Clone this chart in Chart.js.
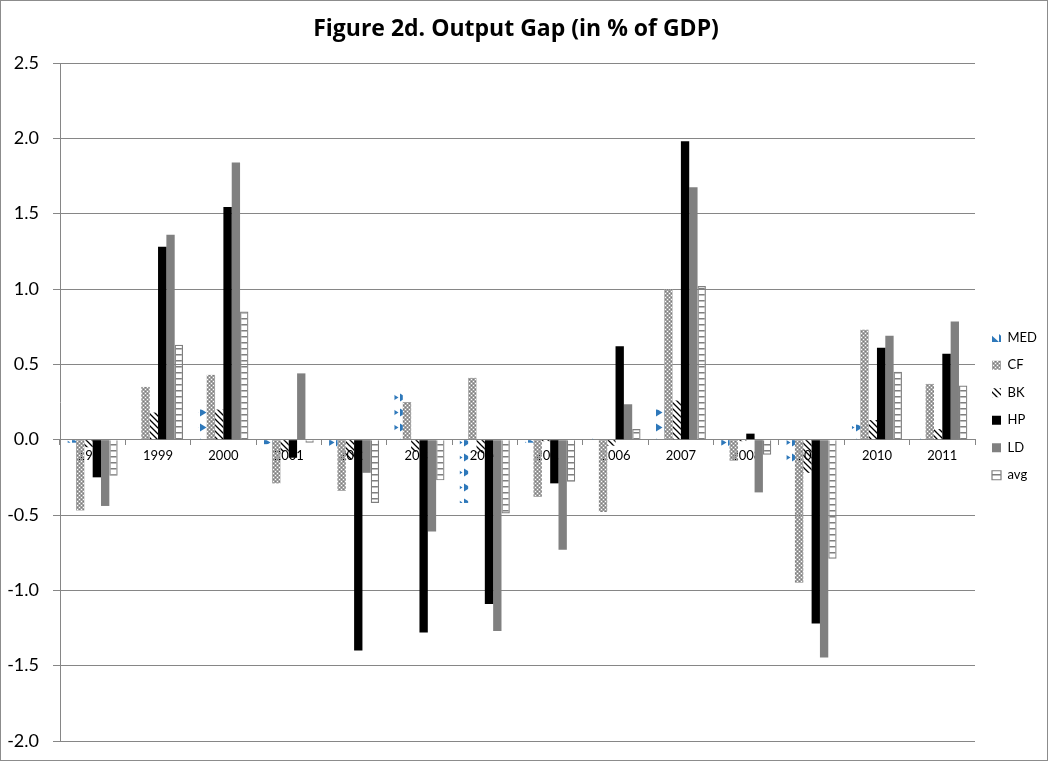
<!DOCTYPE html>
<html>
<head>
<meta charset="utf-8">
<script src="https://cdn.jsdelivr.net/npm/chart.js@4.4.0/dist/chart.umd.min.js"></script>
<style>
  html, body { margin: 0; padding: 0; background: #ffffff; }
  canvas { display: block; }
</style>
</head>
<body>
<canvas id="gap" width="1048" height="761"></canvas>
<script>
// Output gap estimates by filter method, % of GDP
const years = ['1998','1999','2000','2001','2002','2003','2004','2005','2006','2007','2008','2009','2010','2011'];
const seriesNames = ['MED','CF','BK','HP','LD','avg'];
const medValues = [-0.02, 0.00, 0.20, -0.03, -0.07, 0.35, -0.42, -0.02, 0.01, 0.20, -0.04, -0.19, 0.10, 0.04];
const cfValues  = [-0.47, 0.35, 0.43, -0.29, -0.34, 0.25, 0.41, -0.38, -0.48, 1.00, -0.14, -0.95, 0.73, 0.37];
const bkValues  = [-0.05, 0.18, 0.20, -0.08, -0.13, -0.08, -0.09, -0.01, -0.04, 0.26, -0.01, -0.22, 0.13, 0.07];
const hpValues  = [-0.25, 1.28, 1.545, -0.12, -1.40, -1.28, -1.09, -0.29, 0.62, 1.98, 0.04, -1.22, 0.61, 0.57];
const ldValues  = [-0.44, 1.36, 1.84, 0.44, -0.22, -0.61, -1.27, -0.73, 0.235, 1.675, -0.35, -1.445, 0.69, 0.785];
const avgValues = [-0.24, 0.63, 0.85, -0.02, -0.42, -0.27, -0.49, -0.28, 0.07, 1.02, -0.10, -0.79, 0.45, 0.36];
const yMin = -2.0, yMax = 2.5, yStep = 0.5;
const titleText = 'Figure 2d. Output Gap (in % of GDP)';

const canvas = document.getElementById('gap');
const ctx = canvas.getContext('2d');

// small repeating tiles used as bar fills (light parts left transparent)
function tile(w, h, paint) {
  const t = document.createElement('canvas');
  t.width = w; t.height = h;
  paint(t.getContext('2d'), w, h);
  return ctx.createPattern(t, 'repeat');
}
const medFill = tile(8, 15, (g) => {
  g.fillStyle = '#2E78BA';
  g.beginPath(); g.moveTo(0, 3.5); g.lineTo(6.5, 7.5); g.lineTo(0, 11.5); g.closePath(); g.fill();
});
const cfFill = tile(4, 4, (g) => {
  g.fillStyle = '#a4a4a4'; g.fillRect(0, 0, 4, 4);
  g.clearRect(1, 1, 1, 1); g.clearRect(3, 3, 1, 1);
  g.fillStyle = '#7c7c7c'; g.fillRect(3, 1, 1, 1); g.fillRect(1, 3, 1, 1);
});
const bkFill = tile(6, 6, (g) => {
  g.strokeStyle = '#000000'; g.lineWidth = 1.3;
  g.beginPath();
  g.moveTo(-1, -1); g.lineTo(7, 7);
  g.moveTo(5, -1); g.lineTo(7, 1);
  g.moveTo(-1, 5); g.lineTo(1, 7);
  g.stroke();
});
const avgFill = tile(4, 6, (g) => {
  g.fillStyle = '#7f7f7f'; g.fillRect(0, 0, 4, 1.5);
});
// legend swatch for the median series: a single blue wedge
const medKey = tile(9, 9, (g) => {
  g.fillStyle = '#2E78BA';
  g.beginPath(); g.moveTo(0, 1); g.lineTo(9, 9); g.lineTo(0, 9); g.closePath(); g.fill();
});

const seriesStyle = {
  MED: { data: medValues, backgroundColor: medFill, borderWidth: 0 },
  CF:  { data: cfValues,  backgroundColor: cfFill,  borderWidth: 0 },
  BK:  { data: bkValues,  backgroundColor: bkFill,  borderWidth: 0 },
  HP:  { data: hpValues,  backgroundColor: '#000000', borderWidth: 0 },
  LD:  { data: ldValues,  backgroundColor: '#808080', borderWidth: 0 },
  avg: { data: avgValues, backgroundColor: avgFill, borderColor: '#7f7f7f', borderWidth: 1.2 }
};

const datasets = seriesNames.map(name => Object.assign({ label: name }, seriesStyle[name]));

// white page, outer frame and the heading (sized to a 427px band)
const framePlugin = {
  id: 'frame',
  beforeDraw(chart) {
    const c = chart.ctx;
    c.save();
    c.fillStyle = '#ffffff';
    c.fillRect(0, 0, chart.width, chart.height);
    c.restore();
  },
  afterDraw(chart) {
    const c = chart.ctx;
    c.save();
    c.strokeStyle = '#8c8c8c';
    c.lineWidth = 1;
    c.strokeRect(0.5, 0.5, chart.width - 1, chart.height - 1);
    c.font = 'bold 20px "Open Sans"';
    const size = Math.min(23, 20 * 427 / c.measureText(titleText).width);
    c.font = 'bold ' + size.toFixed(1) + 'px "Open Sans"';
    c.fillStyle = '#000000';
    c.textAlign = 'center';
    c.textBaseline = 'middle';
    c.fillText(titleText, 516, 29);
    c.restore();
  }
};

// fixed legend column on the right
const legendColumn = {
  id: 'legendColumn',
  beforeInit(chart) {
    const lg = chart.legend;
    const fit = lg.fit;
    lg.fit = function () { fit.call(this); this.width = 73; };
  },
  afterLayout(chart) {
    const lg = chart.legend;
    lg.left += 2.5;
    lg.top += 4.5;
    lg.bottom += 4.5;
  }
};

new Chart(ctx, {
  type: 'bar',
  data: { labels: years, datasets },
  plugins: [framePlugin, legendColumn],
  options: {
    responsive: false,
    animation: false,
    devicePixelRatio: 1,
    events: [],
    layout: { padding: { top: 63, bottom: 20, left: 0, right: 0 } },
    datasets: { bar: { categoryPercentage: 0.765, barPercentage: 1.0 } },
    plugins: {
      tooltip: { enabled: false },
      title: { display: false },
      legend: {
        position: 'right',
        align: 'center',
        labels: {
          boxWidth: 9,
          boxHeight: 9,
          padding: 14.5,
          color: '#000000',
          font: { family: 'Lato', size: 13 },
          generateLabels(chart) {
            const items = Chart.defaults.plugins.legend.labels.generateLabels(chart);
            items.forEach(it => { if (it.text === 'MED') it.fillStyle = medKey; });
            return items;
          }
        }
      }
    },
    scales: {
      x: {
        position: { y: 0 },
        offset: true,
        grid: { display: true, drawOnChartArea: false, drawTicks: true, tickLength: 5, color: '#868686', offset: true },
        border: { display: true, color: '#868686' },
        ticks: { color: '#000000', font: { family: 'Lato', size: 13 }, padding: 3, maxRotation: 0, autoSkip: false }
      },
      y: {
        min: yMin,
        max: yMax,
        afterFit(scale) { scale.width = 60; scale.paddingTop = 0; scale.paddingBottom = 0; },
        ticks: {
          stepSize: yStep,
          color: '#000000',
          font: { family: 'Lato', size: 18 },
          padding: 14,
          callback: (v) => Number(v).toFixed(1)
        },
        grid: { color: '#868686', tickLength: 7, drawTicks: true },
        border: { display: true, color: '#868686' }
      }
    }
  }
});
</script>
</body>
</html>
